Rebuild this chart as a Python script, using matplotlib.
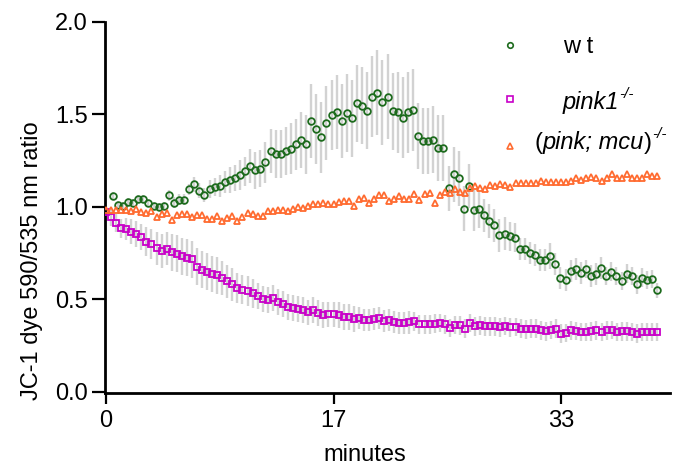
import matplotlib
matplotlib.use("Agg")
import matplotlib.pyplot as plt
import numpy as np
from matplotlib.ticker import FormatStrFormatter

plt.rcParams['font.family'] = ['Liberation Sans', 'DejaVu Sans']

# frame interval 22 s, in minutes
frame_min = 22 / 60

# wt (JC-1 ratio and error)
wt = [1.059, 1.012, 1.005, 1.026, 1.021, 1.041, 1.044, 1.023, 1.006, 0.999,
      1.005, 1.061, 1.023, 1.039, 1.039, 1.095, 1.122, 1.088, 1.064, 1.095,
      1.106, 1.113, 1.134, 1.144, 1.156, 1.171, 1.192, 1.221, 1.198, 1.207,
      1.241, 1.301, 1.288, 1.285, 1.301, 1.315, 1.337, 1.362, 1.337, 1.465,
      1.420, 1.375, 1.454, 1.498, 1.511, 1.462, 1.509, 1.478, 1.559, 1.548,
      1.521, 1.595, 1.617, 1.566, 1.595, 1.516, 1.511, 1.483, 1.511, 1.523,
      1.384, 1.357, 1.357, 1.364, 1.319, 1.319, 1.099, 1.176, 1.153, 0.990,
      1.111, 0.981, 0.986, 0.954, 0.923, 0.900, 0.846, 0.855, 0.840, 0.833,
      0.773, 0.770, 0.750, 0.741, 0.714, 0.710, 0.732, 0.692, 0.616, 0.602,
      0.652, 0.663, 0.641, 0.663, 0.625, 0.638, 0.670, 0.625, 0.649, 0.625,
      0.598, 0.638, 0.625, 0.580, 0.616, 0.605, 0.609, 0.547]
wt_err = [0.02, 0.02, 0.02, 0.02, 0.02, 0.02, 0.02, 0.02, 0.02, 0.02,
          0.02, 0.03, 0.03, 0.03, 0.03, 0.03, 0.04, 0.04, 0.04, 0.05,
          0.05, 0.06, 0.06, 0.07, 0.07, 0.08, 0.08, 0.09, 0.10, 0.10,
          0.11, 0.12, 0.13, 0.13, 0.13, 0.14, 0.14, 0.15, 0.16, 0.20,
          0.19, 0.19, 0.20, 0.19, 0.20, 0.20, 0.21, 0.21, 0.21, 0.21,
          0.21, 0.22, 0.23, 0.23, 0.23, 0.21, 0.22, 0.22, 0.22, 0.22,
          0.18, 0.18, 0.18, 0.18, 0.18, 0.18, 0.12, 0.15, 0.15, 0.12,
          0.12, 0.11, 0.10, 0.09, 0.09, 0.09, 0.09, 0.09, 0.08, 0.08,
          0.06, 0.06, 0.06, 0.06, 0.06, 0.06, 0.07, 0.06, 0.06, 0.06,
          0.06, 0.06, 0.06, 0.05, 0.06, 0.06, 0.06, 0.05, 0.05, 0.05,
          0.05, 0.05, 0.05, 0.05, 0.05, 0.05, 0.05, 0.04]

# pink1-/-
pink1 = [0.972, 0.945, 0.912, 0.883, 0.878, 0.866, 0.851, 0.835, 0.811, 0.798,
         0.775, 0.760, 0.773, 0.755, 0.746, 0.732, 0.723, 0.715, 0.676, 0.659,
         0.648, 0.636, 0.629, 0.614, 0.596, 0.580, 0.560, 0.551, 0.544, 0.531,
         0.517, 0.500, 0.497, 0.506, 0.484, 0.472, 0.458, 0.450, 0.448, 0.439,
         0.428, 0.439, 0.425, 0.412, 0.417, 0.417, 0.412, 0.403, 0.403, 0.394,
         0.398, 0.389, 0.389, 0.392, 0.396, 0.381, 0.385, 0.378, 0.370, 0.370,
         0.374, 0.379, 0.363, 0.363, 0.363, 0.367, 0.372, 0.363, 0.343, 0.359,
         0.358, 0.341, 0.370, 0.352, 0.358, 0.352, 0.352, 0.352, 0.347, 0.354,
         0.347, 0.349, 0.341, 0.336, 0.340, 0.341, 0.331, 0.325, 0.334, 0.340,
         0.313, 0.316, 0.331, 0.327, 0.322, 0.322, 0.325, 0.331, 0.322, 0.331,
         0.334, 0.322, 0.325, 0.325, 0.322, 0.313, 0.322, 0.322, 0.322, 0.322]
pink1_err = [0.01, 0.05, 0.05, 0.05, 0.06, 0.07, 0.07, 0.07, 0.08, 0.08,
             0.09, 0.09, 0.09, 0.10, 0.10, 0.10, 0.10, 0.10, 0.10, 0.10,
             0.10, 0.10, 0.10, 0.09, 0.09, 0.09, 0.08, 0.08, 0.08, 0.08,
             0.07, 0.07, 0.07, 0.07, 0.07, 0.07, 0.07, 0.07, 0.07, 0.07,
             0.07, 0.07, 0.07, 0.07, 0.07, 0.07, 0.07, 0.07, 0.07, 0.07,
             0.06, 0.06, 0.06, 0.06, 0.06, 0.06, 0.06, 0.06, 0.06, 0.06,
             0.06, 0.05, 0.05, 0.05, 0.05, 0.05, 0.05, 0.05, 0.05, 0.05,
             0.05, 0.05, 0.05, 0.05, 0.05, 0.05, 0.05, 0.05, 0.05, 0.05,
             0.05, 0.05, 0.05, 0.05, 0.05, 0.05, 0.05, 0.05, 0.05, 0.05,
             0.05, 0.05, 0.05, 0.05, 0.05, 0.05, 0.05, 0.05, 0.05, 0.05,
             0.05, 0.05, 0.05, 0.05, 0.05, 0.05, 0.05, 0.05, 0.05, 0.05]

# (pink; mcu)-/-
pink_mcu = [0.980, 0.981, 0.981, 0.981, 0.981, 0.977, 0.990, 0.972, 0.967, 0.977,
            0.945, 0.959, 0.967, 0.927, 0.954, 0.959, 0.959, 0.945, 0.954, 0.956,
            0.936, 0.934, 0.952, 0.925, 0.937, 0.950, 0.925, 0.943, 0.965, 0.963,
            0.952, 0.952, 0.976, 0.978, 0.981, 0.980, 0.979, 0.988, 0.999, 0.994,
            1.003, 1.014, 1.014, 1.021, 1.017, 1.017, 1.026, 1.031, 1.031, 1.004,
            1.044, 1.048, 1.021, 1.044, 1.062, 1.062, 1.030, 1.044, 1.059, 1.041,
            1.041, 1.068, 1.035, 1.068, 1.075, 1.023, 1.066, 1.080, 1.077, 1.095,
            1.080, 1.077, 1.104, 1.111, 1.102, 1.095, 1.117, 1.115, 1.122, 1.117,
            1.107, 1.126, 1.131, 1.131, 1.129, 1.131, 1.140, 1.135, 1.135, 1.135,
            1.135, 1.135, 1.140, 1.158, 1.147, 1.156, 1.162, 1.158, 1.140, 1.154,
            1.180, 1.158, 1.158, 1.180, 1.158, 1.158, 1.158, 1.180, 1.167, 1.167]

xticks = [0, 16.5, 33]
xtick_labels = ["0", "17", "33"]
yticks = [0.0, 0.5, 1.0, 1.5, 2.0]

green = '#1d6b1d'
magenta = '#c800c8'
orange = '#ff6b30'
grey = '#d2d2d2'

t = np.arange(len(pink1)) * frame_min
t_wt = np.linspace(0.5, t[-1], len(wt))

W, H = 673, 466
fig = plt.figure(figsize=(W / 100, H / 100), dpi=100)
ax = fig.add_axes([105 / W, 1 - 393 / H, 565 / W, 371 / H])

ax.errorbar(t_wt, wt, yerr=wt_err, fmt='none', ecolor=grey, elinewidth=1.7, capsize=0, zorder=1)
ax.errorbar(t, pink1, yerr=pink1_err, fmt='none', ecolor=grey, elinewidth=1.7, capsize=0, zorder=1)

mk = dict(linestyle='none', markerfacecolor='none', markeredgewidth=1.3, zorder=3)
ax.plot(t_wt, wt, marker='o', markersize=4.8, markeredgecolor=green, **mk)
ax.plot(t, pink1, marker='s', markersize=4.6, markeredgecolor=magenta, **mk)
ax.plot(t, pink_mcu, marker='^', markersize=4.8, markeredgecolor=orange, **mk)

ax.set_xlim(-0.07, 40.9)
ax.set_ylim(-0.008, 2.0)
ax.set_xticks(xticks)
ax.set_xticklabels(xtick_labels)
ax.set_yticks(yticks)
ax.yaxis.set_major_formatter(FormatStrFormatter('%.1f'))

for s in ['top', 'right']:
    ax.spines[s].set_visible(False)
for s in ['left', 'bottom']:
    ax.spines[s].set_linewidth(2.0)
ax.tick_params(axis='y', direction='out', length=9.4, width=1.6, labelsize=17, pad=3)
ax.tick_params(axis='x', direction='out', length=8, width=1.6, labelsize=17, pad=4)

fig.text(32 / W, 1 - 261 / H, "JC-1 dye 590/535 nm ratio", rotation=90,
         ha='center', va='center', fontsize=17)
fig.text(365 / W, 1 - 461 / H, "minutes", ha='center', va='baseline', fontsize=17)

# legend drawn by hand: pieces of (text, style, size, raise in px)
renderer = fig.canvas.get_renderer()


def put_pieces(x0, y0, pieces):
    x = x0
    for s, style, size, dy in pieces:
        txt = fig.text(x / W, 1 - (y0 - dy) / H, s, ha='left', va='baseline',
                       fontsize=size, fontstyle=style)
        bb = txt.get_window_extent(renderer)
        x += bb.width


sup = "-/-"
leg = [('o', green, 45, 563, 53, [("w t", 'normal', 17, 0)]),
       ('s', magenta, 99, 563, 109, [("pink1", 'italic', 17, 0), (sup, 'italic', 11, 11)]),
       ('^', orange, 146, 535, 149, [("(", 'normal', 17, 0), ("pink; mcu", 'italic', 17, 0),
                                     (")", 'normal', 17, 0), (sup, 'italic', 11, 11)])]
for m, c, my, tx, ty, pieces in leg:
    ax.plot([510 / W], [1 - my / H], marker=m, markersize=4.0, markeredgecolor=c,
            markerfacecolor='none', markeredgewidth=1.2, linestyle='none',
            transform=fig.transFigure, clip_on=False)
    put_pieces(tx, ty, pieces)

fig.savefig("out.png", dpi=100)
